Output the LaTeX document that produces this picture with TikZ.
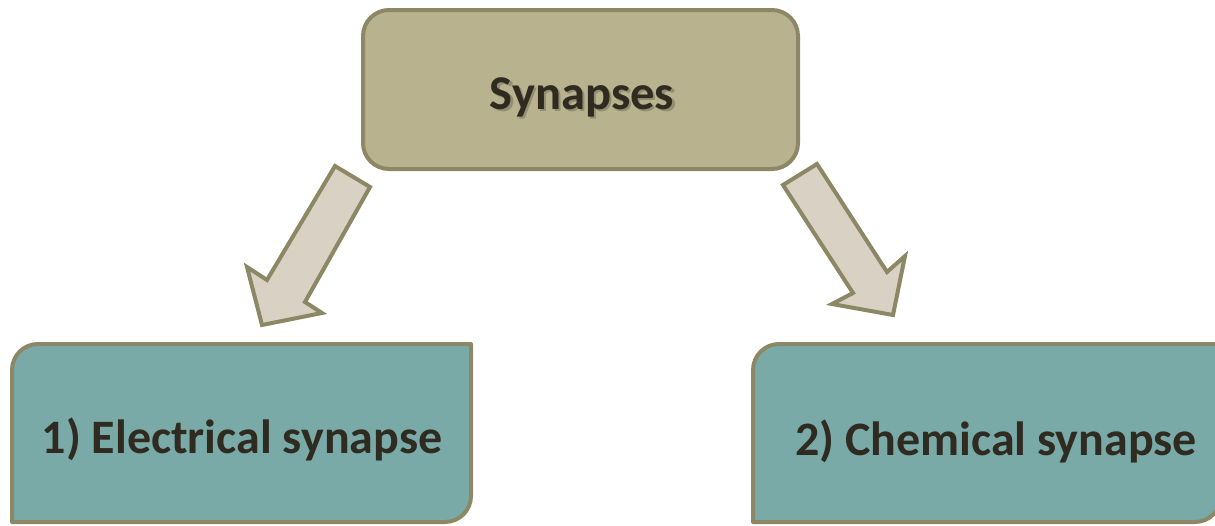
\documentclass[tikz,border=0pt]{standalone}
\usepackage{fontspec}
\setmainfont{Carlito}
\begin{document}
\begin{tikzpicture}[x=1pt,y=-1pt,
  edge/.style={draw={rgb,255:red,140;green,136;blue,102}, line width=4pt, line join=round},
  topbox/.style={edge, fill={rgb,255:red,184;green,179;blue,142}},
  subbox/.style={edge, fill={rgb,255:red,121;green,170;blue,168}},
  blockarrow/.style={edge, line join=miter, fill={rgb,255:red,217;green,209;blue,195}},
  lbl/.style={anchor=base, inner sep=0pt, text={rgb,255:red,47;green,43;blue,33}, font=\bfseries\fontsize{48}{54}\selectfont},
  toplbl/.style={lbl, font=\bfseries\fontsize{48.5}{54}\selectfont},
  shadowlbl/.style={toplbl, text={rgb,255:red,90;green,88;blue,70}, opacity=0.4}]
\useasboundingbox (0,0) rectangle (1215,525);
% top box
\draw[topbox, rounded corners=26pt] (363,10) rectangle (798,169);
\node[shadowlbl] (shadow) at (584.5,111.5) {Synapses};
\node[toplbl] (top) at (582,109) {Synapses};
% left box (rounded top-left and bottom-right)
\draw[subbox] (12,522) -- (12,370) arc[start angle=180,end angle=270,radius=26] -- (471,344) -- (471,496) arc[start angle=0,end angle=90,radius=26] -- cycle;
\node[lbl] (left) at (242,453) {1) Electrical synapse};
% right box (runs past the right edge)
\draw[subbox] (753,522) -- (753,370) arc[start angle=180,end angle=270,radius=26] -- (1221,344) -- (1221,496) arc[start angle=0,end angle=90,radius=26] -- cycle;
\node[lbl] (right) at (996,455) {2) Chemical synapse};
% left block arrow
\draw[blockarrow] (335,166) -- (370,187) -- (305,302) -- (322,313) -- (262,325) -- (247,267) -- (267,280) -- cycle;
% right block arrow
\draw[blockarrow] (817,164) -- (783,185) -- (853,293) -- (832,304) -- (893,315) -- (905,256) -- (887,272) -- cycle;
\end{tikzpicture}
\end{document}
